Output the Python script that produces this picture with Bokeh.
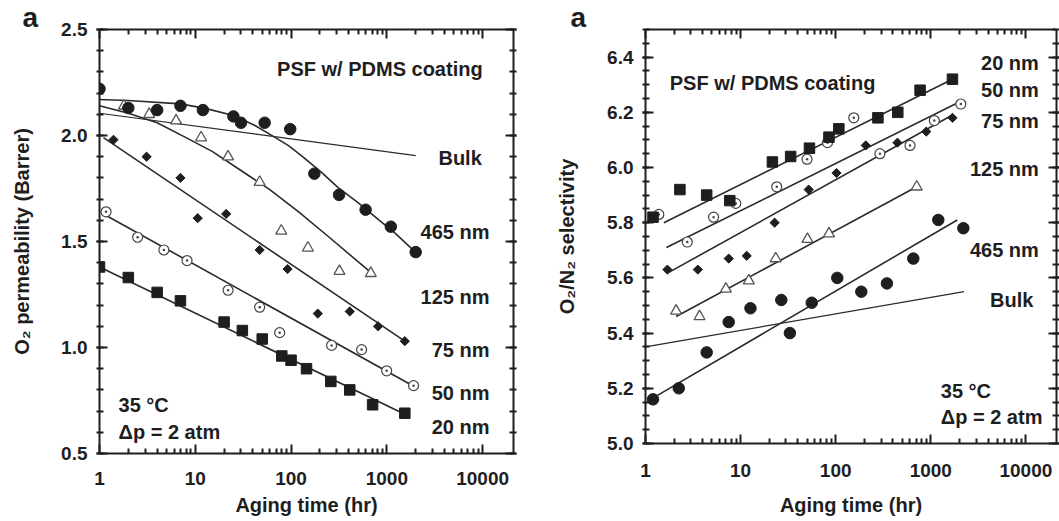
from bokeh.plotting import figure
from bokeh.layouts import row
from bokeh.models import FixedTicker, PrintfTickFormatter, LinearAxis, LogAxis, Label
from bokeh.embed import file_html
from bokeh.resources import INLINE

# ---------------- data: left panel (O2 permeability, Barrer) ----------------
perm_465_t = [1, 2, 4, 7, 12, 25, 30, 53, 98, 175, 317, 600, 1100, 2000]
perm_465 = [2.22, 2.13, 2.12, 2.14, 2.12, 2.09, 2.06, 2.06, 2.03, 1.82, 1.72, 1.65, 1.57, 1.45]
perm_125_t = [1.8, 3.3, 6.3, 11.5, 22, 47, 79, 150, 320, 680]
perm_125 = [2.14, 2.10, 2.07, 1.99, 1.90, 1.78, 1.55, 1.47, 1.36, 1.35]
perm_75_t = [1.4, 3.1, 7, 10.6, 21, 47, 92, 190, 410, 810, 1540]
perm_75 = [1.98, 1.90, 1.80, 1.61, 1.63, 1.46, 1.37, 1.16, 1.17, 1.10, 1.03]
perm_50_t = [1.17, 2.5, 4.7, 8.2, 22, 47, 76, 265, 545, 995, 1900]
perm_50 = [1.64, 1.52, 1.46, 1.41, 1.27, 1.19, 1.07, 1.01, 0.99, 0.89, 0.82]
perm_20_t = [1, 2, 4, 7, 20, 31, 50, 80, 100, 145, 260, 410, 710, 1540]
perm_20 = [1.38, 1.33, 1.26, 1.22, 1.12, 1.08, 1.04, 0.96, 0.94, 0.90, 0.84, 0.80, 0.73, 0.69]

# fitted curves
perm_bulk_fit_t = [1, 2000]
perm_bulk_fit = [2.105, 1.905]
perm_465_fit_t = [1, 2, 7, 12.7, 25, 42, 68, 94, 129, 208, 310, 500, 812, 1210, 2000]
perm_465_fit = [2.17, 2.165, 2.149, 2.128, 2.094, 2.047, 1.991, 1.952, 1.904, 1.826, 1.754, 1.683, 1.604, 1.541, 1.449]
perm_125_fit_t = [1, 2, 4, 8, 15, 30, 60, 120, 250, 500, 700]
perm_125_fit = [2.14, 2.105, 2.06, 1.99, 1.925, 1.835, 1.745, 1.64, 1.52, 1.405, 1.35]
perm_75_fit_t = [1.1, 1540]
perm_75_fit = [1.99, 1.03]
perm_50_fit_t = [1.1, 1950]
perm_50_fit = [1.63, 0.815]
perm_20_fit_t = [1, 1540]
perm_20_fit = [1.38, 0.685]

# ---------------- data: right panel (O2/N2 selectivity) ----------------
sel_20_t = [1.2, 2.3, 4.4, 7.7, 21.6, 33.6, 53, 85, 108, 278, 450, 772, 1690]
sel_20 = [5.82, 5.92, 5.90, 5.88, 6.02, 6.04, 6.07, 6.11, 6.14, 6.18, 6.20, 6.28, 6.32]
sel_50_t = [1.38, 2.75, 5.2, 8.9, 24, 50, 82, 155, 292, 605, 1090, 2070]
sel_50 = [5.83, 5.73, 5.82, 5.87, 5.93, 6.03, 6.09, 6.18, 6.05, 6.08, 6.17, 6.23]
sel_75_t = [1.7, 3.55, 7.5, 11.6, 22.8, 52, 102, 207, 446, 897, 1690]
sel_75 = [5.63, 5.63, 5.67, 5.68, 5.80, 5.92, 5.98, 6.08, 6.09, 6.13, 6.18]
sel_125_t = [2.1, 3.7, 7.0, 12.2, 23.4, 50.5, 85, 712]
sel_125 = [5.48, 5.46, 5.56, 5.59, 5.67, 5.74, 5.76, 5.93]
sel_465_t = [1.2, 2.24, 4.4, 7.5, 12.7, 26.8, 33, 56, 104, 186, 346, 655, 1200, 2200]
sel_465 = [5.16, 5.20, 5.33, 5.44, 5.49, 5.52, 5.40, 5.51, 5.60, 5.55, 5.58, 5.67, 5.81, 5.78]

sel_20_fit_t = [1.56, 1690]
sel_20_fit = [5.80, 6.32]
sel_50_fit_t = [1.66, 2070]
sel_50_fit = [5.71, 6.24]
sel_75_fit_t = [1.76, 1690]
sel_75_fit = [5.62, 6.19]
sel_125_fit_t = [2.1, 712]
sel_125_fit = [5.46, 5.93]
sel_465_fit_t = [1.27, 1900]
sel_465_fit = [5.17, 5.81]
sel_bulk_fit_t = [1, 2240]
sel_bulk_fit = [5.35, 5.55]

# ---------------- ticks ----------------
x_major = [1, 10, 100, 1000, 10000]
x_minor = [m * d for d in (1, 10, 100, 1000) for m in range(2, 10)]
perm_major = [0.5, 1.0, 1.5, 2.0, 2.5]
perm_minor = [round(0.5 + 0.1 * i, 2) for i in range(21)]
sel_major = [5.0, 5.2, 5.4, 5.6, 5.8, 6.0, 6.2, 6.4]
sel_minor = [round(5.0 + 0.05 * i, 2) for i in range(31)]

FONT = "Liberation Sans"
INK = "#1e1e1e"
FS = "19px"


def style_axis(ax, kind, labels=True, label_standoff=15):
    ax.axis_line_color = INK
    ax.axis_line_width = 2
    ax.major_tick_line_color = INK
    ax.major_tick_line_width = 2
    ax.minor_tick_line_color = INK
    ax.minor_tick_line_width = 2
    if kind == "x":
        ax.major_tick_in, ax.major_tick_out = 9, 0
        ax.minor_tick_in, ax.minor_tick_out = 5, 0
        ax.major_label_standoff = label_standoff
    else:
        ax.major_tick_in, ax.major_tick_out = 8, 3
        ax.minor_tick_in, ax.minor_tick_out = 4, 3
        ax.major_label_standoff = 9
    ax.major_label_text_font = FONT
    ax.major_label_text_font_style = "bold"
    ax.major_label_text_font_size = FS
    ax.major_label_text_color = INK
    ax.axis_label_text_font = FONT
    ax.axis_label_text_font_style = "bold"
    ax.axis_label_text_font_size = "20px"
    ax.axis_label_text_color = INK
    if not labels:
        ax.major_label_text_font_size = "1px"
        ax.major_label_text_alpha = 0
        ax.major_label_standoff = 0


def make_panel(width, yr, ymaj, ymin, ylabel, border_l, border_r, border_b,
               xtick_standoff, xlabel_standoff, ylabel_standoff, a_offset):
    p = figure(width=width, height=521, x_axis_type="log", x_range=(1, 21000), y_range=yr,
               output_backend="svg", toolbar_location=None,
               min_border_left=border_l, min_border_right=border_r,
               min_border_top=29, min_border_bottom=border_b)
    p.frame_align = False
    p.xgrid.visible = False
    p.ygrid.visible = False
    p.outline_line_color = None
    p.background_fill_color = "white"
    p.border_fill_color = "white"
    # panel letter as the plot title, pushed into the left margin
    p.title.text = "a"
    p.title.align = "left"
    p.title.offset = a_offset
    p.title.standoff = -6
    p.title.text_font = FONT
    p.title.text_font_style = "bold"
    p.title.text_font_size = "28px"
    p.title.text_color = INK

    p.xaxis.ticker = FixedTicker(ticks=x_major, minor_ticks=x_minor)
    p.xaxis.formatter = PrintfTickFormatter(format="%d")
    p.yaxis.ticker = FixedTicker(ticks=ymaj, minor_ticks=ymin)
    p.yaxis.formatter = PrintfTickFormatter(format="%.1f")
    p.xaxis.axis_label = "Aging time (hr)"
    p.yaxis.axis_label = ylabel
    style_axis(p.xaxis[0], "x", label_standoff=xtick_standoff)
    style_axis(p.yaxis[0], "y")
    p.xaxis.axis_label_standoff = xlabel_standoff
    p.yaxis.axis_label_standoff = ylabel_standoff
    top = LogAxis(ticker=FixedTicker(ticks=x_major, minor_ticks=x_minor),
                  formatter=PrintfTickFormatter(format="%d"))
    style_axis(top, "x", labels=False)
    p.add_layout(top, "above")
    right = LinearAxis(ticker=FixedTicker(ticks=ymaj, minor_ticks=ymin),
                       formatter=PrintfTickFormatter(format="%.1f"))
    style_axis(right, "y", labels=False)
    p.add_layout(right, "right")
    return p


def add_label(p, x, y, text, align="left"):
    p.add_layout(Label(x=x, y=y, text=text, text_font=FONT, text_font_style="bold",
                       text_font_size="20px", text_color=INK, text_align=align,
                       text_baseline="middle"))


def draw_series(p, t, v, kind):
    if kind == "square":
        p.scatter(t, v, marker="square", size=10.5, fill_color=INK, line_color=INK)
    elif kind == "circle":
        p.scatter(t, v, marker="circle", size=11.5, fill_color=INK, line_color=INK)
    elif kind == "diamond":
        p.scatter(t, v, marker="square", angle=0.785398, size=6.5, fill_color=INK, line_color=INK)
    elif kind == "dot":
        p.scatter(t, v, marker="circle_dot", size=10, fill_color="white", line_color="#444444", line_width=1.2)
    elif kind == "tri":
        p.scatter(t, v, marker="triangle", size=11, fill_color="white", line_color="#555555", line_width=1.3)


def draw_fit(p, t, v, w=1.6):
    p.line(t, v, line_color="#2a2a2a", line_width=w)


# ---------------- left panel ----------------
p1 = make_panel(530, (0.5, 2.5), perm_major, perm_minor,
                "O\u2082 permeability (Barrer)", 99, 17, 68, 18, 6, 25, -77)
draw_fit(p1, perm_bulk_fit_t, perm_bulk_fit, 1.2)
draw_fit(p1, perm_465_fit_t, perm_465_fit)
draw_fit(p1, perm_125_fit_t, perm_125_fit)
draw_fit(p1, perm_75_fit_t, perm_75_fit)
draw_fit(p1, perm_50_fit_t, perm_50_fit)
draw_fit(p1, perm_20_fit_t, perm_20_fit)
draw_series(p1, perm_125_t, perm_125, "tri")
draw_series(p1, perm_50_t, perm_50, "dot")
draw_series(p1, perm_75_t, perm_75, "diamond")
draw_series(p1, perm_465_t, perm_465, "circle")
draw_series(p1, perm_20_t, perm_20, "square")

add_label(p1, 10000, 2.315, "PSF w/ PDMS coating", "right")
add_label(p1, 9800, 1.893, "Bulk", "right")
add_label(p1, 11800, 1.547, "465 nm", "right")
add_label(p1, 11800, 1.239, "125 nm", "right")
add_label(p1, 11800, 0.988, "75 nm", "right")
add_label(p1, 11800, 0.784, "50 nm", "right")
add_label(p1, 11800, 0.623, "20 nm", "right")
add_label(p1, 1.58, 0.727, "35 \u00b0C", "left")
add_label(p1, 1.58, 0.600, "\u0394p = 2 atm", "left")

# ---------------- right panel ----------------
p2 = make_panel(529, (5.0, 6.5), sel_major, sel_minor,
                "O\u2082/N\u2082 selectivity", 115, 2, 78, 20, 14, 26, -75)
draw_fit(p2, sel_bulk_fit_t, sel_bulk_fit, 1.2)
draw_fit(p2, sel_20_fit_t, sel_20_fit)
draw_fit(p2, sel_50_fit_t, sel_50_fit)
draw_fit(p2, sel_75_fit_t, sel_75_fit)
draw_fit(p2, sel_125_fit_t, sel_125_fit)
draw_fit(p2, sel_465_fit_t, sel_465_fit)
draw_series(p2, sel_125_t, sel_125, "tri")
draw_series(p2, sel_50_t, sel_50, "dot")
draw_series(p2, sel_75_t, sel_75, "diamond")
draw_series(p2, sel_465_t, sel_465, "circle")
draw_series(p2, sel_20_t, sel_20, "square")

add_label(p2, 13700, 6.378, "20 nm", "right")
add_label(p2, 13700, 6.280, "50 nm", "right")
add_label(p2, 13700, 6.168, "75 nm", "right")
add_label(p2, 13700, 5.993, "125 nm", "right")
add_label(p2, 13700, 5.700, "465 nm", "right")
add_label(p2, 12000, 5.521, "Bulk", "right")
add_label(p2, 1.80, 6.305, "PSF w/ PDMS coating", "left")
add_label(p2, 1275, 5.190, "35 \u00b0C", "left")
add_label(p2, 1275, 5.095, "\u0394p = 2 atm", "left")

layout = row(p1, p2)
open("out.html", "w").write(file_html(layout, INLINE))
